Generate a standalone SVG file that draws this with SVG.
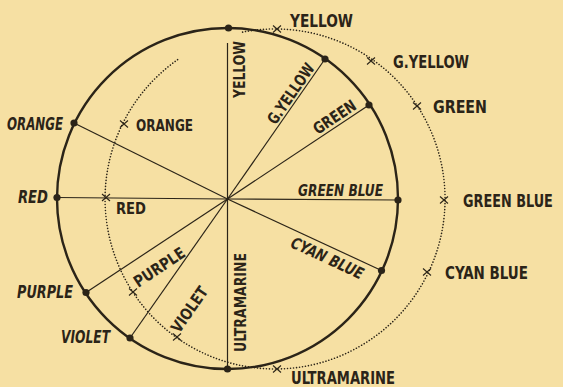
<svg xmlns="http://www.w3.org/2000/svg" width="563" height="387" viewBox="0 0 563 387">
<style>
.t{font-family:"DejaVu Sans Condensed","DejaVu Sans",sans-serif;font-stretch:condensed;font-weight:bold;fill:#2b2418;font-size:17px}
.s{font-size:16px}
.i{font-style:italic}
.dot{fill:#2b2418}
.ray{stroke:#2b2418;stroke-width:1.2;fill:none}
.x{stroke:#2b2418;stroke-width:1.1;fill:none}
</style>
<rect width="563" height="387" fill="#f6e0a3"/>
<circle cx="227.5" cy="198.5" r="170.5" fill="none" stroke="#2b2418" stroke-width="2.4"/>
<path d="M242.6,32.1 A170,170 0 1 1 179.9,58.1" fill="none" stroke="#2b2418" stroke-width="1.6" stroke-linecap="round" stroke-dasharray="0.01 3"/>
<g id="connectors">
<line class="ray" x1="227.5" y1="199" x2="227.5" y2="43"/>
<line class="ray" x1="227.5" y1="199" x2="325" y2="59"/>
<line class="ray" x1="227.5" y1="199" x2="369" y2="105"/>
<line class="ray" x1="227.5" y1="199" x2="398" y2="200"/>
<line class="ray" x1="227.5" y1="199" x2="381.5" y2="270.5"/>
<line class="ray" x1="227.5" y1="199" x2="227.5" y2="369"/>
<line class="ray" x1="227.5" y1="199" x2="130" y2="338"/>
<line class="ray" x1="227.5" y1="199" x2="86" y2="292.5"/>
<line class="ray" x1="227.5" y1="199" x2="57" y2="197.5"/>
<line class="ray" x1="227.5" y1="199" x2="74" y2="123"/>
</g>
<defs><path id="cr" d="M-4,-3.5 L4,3.5 M-4,3.5 L4,-3.5"/></defs>
<g id="yellow">
<circle class="dot" cx="228.5" cy="28" r="3.6"/>
<use href="#cr" class="x" x="277" y="29"/>
<text class="t s" transform="translate(245,98) rotate(-90)" textLength="57" lengthAdjust="spacingAndGlyphs">YELLOW</text>
<text class="t" x="290" y="27" textLength="63" lengthAdjust="spacingAndGlyphs">YELLOW</text>
</g>
<g id="g-yellow">
<circle class="dot" cx="325" cy="59" r="3.6"/>
<use href="#cr" class="x" x="371" y="61"/>
<text class="t s" transform="translate(275.5,125.6) rotate(-55.3)" textLength="70" lengthAdjust="spacingAndGlyphs">G.YELLOW</text>
<text class="t" x="393" y="68" textLength="76" lengthAdjust="spacingAndGlyphs">G.YELLOW</text>
</g>
<g id="green">
<circle class="dot" cx="369" cy="105" r="3.6"/>
<use href="#cr" class="x" x="417" y="106"/>
<text class="t s" transform="translate(317.7,134.9) rotate(-33.7)" textLength="48" lengthAdjust="spacingAndGlyphs">GREEN</text>
<text class="t" x="433" y="113" textLength="54" lengthAdjust="spacingAndGlyphs">GREEN</text>
</g>
<g id="green-blue">
<circle class="dot" cx="398" cy="200" r="3.6"/>
<use href="#cr" class="x" x="444" y="200"/>
<text class="t s i" x="298" y="196" textLength="85" lengthAdjust="spacingAndGlyphs">GREEN BLUE</text>
<text class="t" transform="translate(463,207) scale(0.84,1)">GREEN BLUE</text>
</g>
<g id="cyan-blue">
<circle class="dot" cx="381.5" cy="270.5" r="3.6"/>
<use href="#cr" class="x" x="427" y="272"/>
<text class="t s i" transform="translate(289.6,246.7) rotate(24.9)" textLength="78" lengthAdjust="spacingAndGlyphs">CYAN BLUE</text>
<text class="t" x="445" y="279" textLength="83" lengthAdjust="spacingAndGlyphs">CYAN BLUE</text>
</g>
<g id="ultramarine">
<circle class="dot" cx="227.5" cy="369" r="3.6"/>
<use href="#cr" class="x" x="277" y="369"/>
<text class="t s" transform="translate(246,352) rotate(-90)" textLength="99" lengthAdjust="spacingAndGlyphs">ULTRAMARINE</text>
<text class="t" x="291" y="384" textLength="104" lengthAdjust="spacingAndGlyphs">ULTRAMARINE</text>
</g>
<g id="violet">
<circle class="dot" cx="130" cy="338" r="3.6"/>
<use href="#cr" class="x" x="177" y="337"/>
<text class="t s" transform="translate(179.2,334) rotate(-55.1)" textLength="52" lengthAdjust="spacingAndGlyphs">VIOLET</text>
<text class="t i" x="61" y="343" textLength="49" lengthAdjust="spacingAndGlyphs">VIOLET</text>
</g>
<g id="purple">
<circle class="dot" cx="86" cy="292.5" r="3.6"/>
<use href="#cr" class="x" x="133" y="292"/>
<text class="t s" transform="translate(138.3,287.9) rotate(-33.6)" textLength="58" lengthAdjust="spacingAndGlyphs">PURPLE</text>
<text class="t i" x="17" y="298" textLength="56" lengthAdjust="spacingAndGlyphs">PURPLE</text>
</g>
<g id="red">
<circle class="dot" cx="57" cy="197.5" r="3.6"/>
<use href="#cr" class="x" x="106" y="197.5"/>
<text class="t s" x="116" y="214" textLength="30" lengthAdjust="spacingAndGlyphs">RED</text>
<text class="t i" x="18" y="203" textLength="30" lengthAdjust="spacingAndGlyphs">RED</text>
</g>
<g id="orange">
<circle class="dot" cx="74" cy="123" r="3.6"/>
<use href="#cr" class="x" x="124" y="124"/>
<text class="t s" x="136" y="130.5" textLength="57" lengthAdjust="spacingAndGlyphs">ORANGE</text>
<text class="t i" x="7" y="130" textLength="56" lengthAdjust="spacingAndGlyphs">ORANGE</text>
</g>
</svg>
